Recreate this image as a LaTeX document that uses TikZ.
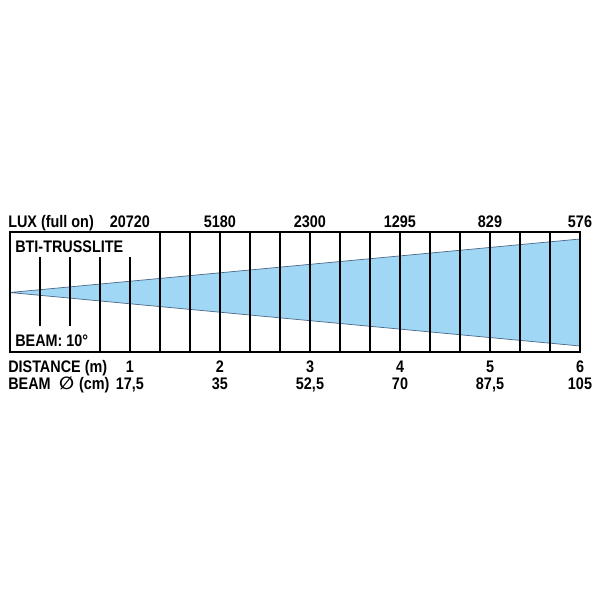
\documentclass[tikz,border=0pt]{standalone}
\usepackage{fontspec}
\setmainfont{Liberation Sans}[FakeStretch=0.86]
\newfontfamily\symfont{DejaVu Sans}
\definecolor{beamblue}{RGB}{160,215,245}
\definecolor{beamedge}{RGB}{75,105,135}
\tikzset{
  lbl/.style={font=\bfseries\fontsize{11.9}{14}\selectfont, inner sep=0pt},
  grid line/.style={line width=0.9pt},
}
\begin{document}
\begin{tikzpicture}[x=0.025cm,y=-0.025cm]
\useasboundingbox (0,0) rectangle (600,600);
% Lichtkegel
\fill[beamblue] (10,292.5) -- (580,239) -- (580,346) -- cycle;
\draw[beamedge, line width=0.5pt] (580,239) -- (10,292.5) -- (580,346);
% Raster
\foreach \x in {40,70} \draw[grid line] (\x,257) -- (\x,326);
\foreach \x in {100,130} \draw[grid line] (\x,257) -- (\x,352);
\foreach \x in {160,190,...,550} \draw[grid line] (\x,232) -- (\x,352);
\draw[line width=1.8pt] (10,232) rectangle (580,352);
% Texte
\node[lbl, anchor=base west] (lux) at (8,227) {LUX (full on)};
\node[lbl, anchor=base west] (name) at (15,252) {BTI-TRUSSLITE};
\node[lbl, anchor=base west] (angle) at (15,346) {BEAM: 10°};
\node[lbl, anchor=base west] (dist) at (8,372) {DISTANCE (m)};
\node[lbl, anchor=base west] (diam) at (8,389) {BEAM\hspace{0.5em}{\symfont\itshape\fontsize{12.5}{14}\selectfont ∅}\hspace{0.3em}(cm)};
\foreach \x/\l/\d/\b in {130/20720/1/{17,5}, 220/5180/2/35, 310/2300/3/{52,5},
  400/1295/4/70, 490/829/5/{87,5}, 580/576/6/105} {
  \node[lbl, anchor=base] (lux-\d) at (\x,227) {\l};
  \node[lbl, anchor=base] (dist-\d) at (\x,372) {\d};
  \node[lbl, anchor=base] (diam-\d) at (\x,389) {\b};
}
\end{tikzpicture}
\end{document}
